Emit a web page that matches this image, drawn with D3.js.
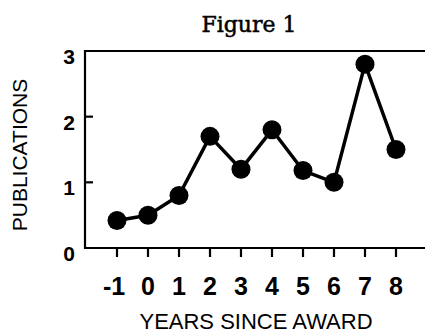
<!DOCTYPE html>
<html>
<head>
<meta charset="utf-8">
<script src="https://cdn.jsdelivr.net/npm/d3@7"></script>
<style>
  body { margin: 0; background: #fff; }
  svg { display: block; }
  .sans { font-family: "Liberation Sans", Arial, Helvetica, sans-serif; fill: #000; }
</style>
</head>
<body>
<div id="chart"></div>
<script>
// values
const years = [-1, 0, 1, 2, 3, 4, 5, 6, 7, 8];
const publications = [0.42, 0.5, 0.8, 1.7, 1.2, 1.8, 1.18, 1.0, 2.8, 1.5];
const yTicks = [0, 1, 2, 3];

const width = 425, height = 335;

const svg = d3.select("#chart").append("svg")
    .attr("width", width)
    .attr("height", height);

// scales
const x = d3.scaleLinear()
    .domain([-1, 8])
    .range([117, 396]);

const y = d3.scaleLinear()
    .domain([0, 3])
    .range([248, 51]);

const left = 85, right = 425;

// title
svg.append("text")
    .attr("x", 249)
    .attr("y", 32)
    .attr("text-anchor", "middle")
    .style("font-family", "'DejaVu Serif', Georgia, serif")
    .style("font-size", "22px")
    .style("stroke", "#000")
    .style("stroke-width", 0.5)
    .text("Figure 1");

// frame: left axis, top line, bottom axis
svg.append("path")
    .attr("d", `M${right},${y(3)}H${left}V${y(0)}H${right}`)
    .attr("fill", "none")
    .attr("stroke", "#000")
    .attr("stroke-width", 2.2);

// y ticks (inside) and labels
const yAxis = svg.append("g");
yAxis.selectAll("line").data(yTicks.filter(d => d > 0 && d < 3)).enter().append("line")
    .attr("x1", left).attr("x2", left + 8)
    .attr("y1", d => y(d)).attr("y2", d => y(d))
    .attr("stroke", "#000").attr("stroke-width", 2.2);
yAxis.selectAll("text").data(yTicks).enter().append("text")
    .attr("class", "sans")
    .attr("x", 75)
    .attr("y", d => y(d) + 13)
    .attr("text-anchor", "end")
    .style("font-size", "21px")
    .style("font-weight", "bold")
    .text(d => d);

// x ticks (below) and labels
const xAxis = svg.append("g");
xAxis.selectAll("line").data(years).enter().append("line")
    .attr("x1", d => x(d)).attr("x2", d => x(d))
    .attr("y1", y(0)).attr("y2", y(0) + 9)
    .attr("stroke", "#000").attr("stroke-width", 2.2);
xAxis.selectAll("text").data(years).enter().append("text")
    .attr("class", "sans")
    .attr("x", d => x(d) - (d < 0 ? 3 : 0))
    .attr("y", 295)
    .attr("text-anchor", "middle")
    .style("font-size", "25px")
    .style("font-weight", "bold")
    .text(d => d);

// axis titles
svg.append("text")
    .attr("class", "sans")
    .attr("x", 256)
    .attr("y", 329)
    .attr("text-anchor", "middle")
    .style("font-size", "22px")
    .text("YEARS SINCE AWARD");

svg.append("text")
    .attr("class", "sans")
    .attr("transform", "translate(27,155) rotate(-90)")
    .attr("text-anchor", "middle")
    .style("font-size", "21px")
    .text("PUBLICATIONS");

// series
const pts = years.map((yr, i) => ({ yr, v: publications[i] }));

const line = d3.line()
    .x(d => x(d.yr))
    .y(d => y(d.v));

svg.append("path")
    .datum(pts)
    .attr("d", line)
    .attr("fill", "none")
    .attr("stroke", "#000")
    .attr("stroke-width", 3.5)
    .attr("stroke-linejoin", "round");

svg.selectAll("circle.pt").data(pts).enter().append("circle")
    .attr("class", "pt")
    .attr("cx", d => x(d.yr))
    .attr("cy", d => y(d.v))
    .attr("r", 9.5)
    .attr("fill", "#000");
</script>
</body>
</html>
